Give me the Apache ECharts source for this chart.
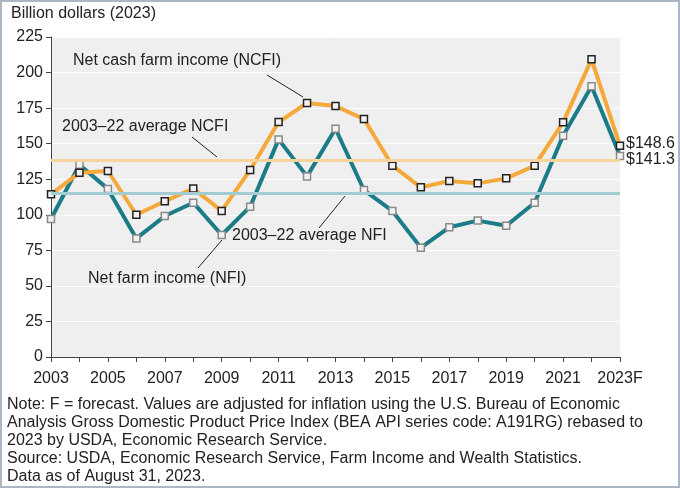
<!DOCTYPE html>
<html>
<head>
<meta charset="utf-8">
<script src="https://cdn.jsdelivr.net/npm/echarts@6/dist/echarts.min.js"></script>
<style>
  html, body { margin: 0; padding: 0; background: #fff; }
  #chart { width: 680px; height: 489px; }
</style>
</head>
<body>
<div id="chart"></div>
<script>
// 年份（横轴）
const years = ['2003', '2004', '2005', '2006', '2007', '2008', '2009', '2010', '2011', '2012',
  '2013', '2014', '2015', '2016', '2017', '2018', '2019', '2020', '2021', '2022', '2023F']
// Net cash farm income
const ncfi = [114.4, 129.6, 130.8, 100.0, 109.5, 118.4, 102.7, 131.5, 165.2, 178.6,
  176.5, 167.3, 134.5, 119.3, 123.8, 122.1, 125.6, 134.5, 165.0, 209.3, 148.6]
// Net farm income
const nfi = [97.0, 135.2, 118.2, 83.4, 99.1, 108.5, 85.8, 105.7, 153.0, 127.0,
  160.5, 117.4, 102.7, 76.9, 91.2, 95.9, 92.3, 108.5, 155.6, 190.3, 141.3]
// 2003–22 平均值
const avgNcfi = 138.3
const avgNfi = 115.1

const noteLines = [
  'Note: F = forecast. Values are adjusted for inflation using the U.S. Bureau of Economic',
  'Analysis Gross Domestic Product Price Index (BEA API series code: A191RG) rebased to',
  '2023 by USDA, Economic Research Service.',
  'Source: USDA, Economic Research Service, Farm Income and Wealth Statistics.',
  'Data as of August 31, 2023.'
]

const FONT = '"Liberation Sans", Arial, sans-serif'
const ORANGE = '#F4A93A'
const TEAL = '#1B7C88'

let chart = echarts.init(document.getElementById('chart'))

// 注释文字 + 引线
const annot = (text, x, y) => ({
  type: 'text', left: x, top: y, z: 20,
  style: { text: text, font: '16px ' + FONT, fill: '#222' }
})
const leader = (x1, y1, x2, y2) => ({
  type: 'line', z: 20,
  shape: { x1: x1, y1: y1, x2: x2, y2: y2 },
  style: { stroke: '#222', lineWidth: 1 }
})

chart.setOption({
  animation: false,
  backgroundColor: '#fff',
  textStyle: { fontFamily: FONT },
  grid: {
    left: 51, right: 60, top: 37, bottom: 132,
    show: true, backgroundColor: '#EFEFEF', borderWidth: 0
  },
  xAxis: {
    type: 'category',
    data: years,
    boundaryGap: false,
    axisLine: { lineStyle: { color: '#444', width: 1 } },
    axisTick: { show: true, interval: 0, length: 5, lineStyle: { color: '#444' } },
    axisLabel: { interval: 1, color: '#222', fontSize: 16, margin: 14, fontFamily: FONT },
    splitLine: { show: false }
  },
  yAxis: {
    type: 'value',
    min: 0, max: 225, interval: 25,
    axisLine: { show: true, lineStyle: { color: '#444', width: 1 } },
    axisTick: { show: true, length: 5, lineStyle: { color: '#444' } },
    axisLabel: { color: '#222', fontSize: 16, margin: 8, fontFamily: FONT },
    splitLine: { show: true, lineStyle: { color: '#fff', width: 1 } }
  },
  series: [
    {
      // 平均线放在下面
      type: 'line', data: [], silent: true, z: 1,
      markLine: {
        silent: true, symbol: 'none', label: { show: false },
        data: [
          { yAxis: avgNcfi, lineStyle: { color: '#F8D49C', width: 3, type: 'solid' } },
          { yAxis: avgNfi, lineStyle: { color: '#A2CBD2', width: 3, type: 'solid' } }
        ]
      }
    },
    {
      name: 'NCFI', type: 'line', data: ncfi, z: 4,
      symbol: 'rect', symbolSize: 7,
      lineStyle: { color: ORANGE, width: 4 },
      itemStyle: { color: '#F2F2F2', borderColor: '#222', borderWidth: 1.5 },
      endLabel: {
        show: true, formatter: p => '$' + p.value.toFixed(1),
        color: '#222', fontSize: 16, fontFamily: FONT, distance: 6, offset: [0, -2]
      }
    },
    {
      name: 'NFI', type: 'line', data: nfi, z: 3,
      symbol: 'rect', symbolSize: 7,
      lineStyle: { color: TEAL, width: 4 },
      itemStyle: { color: '#F2F2F2', borderColor: '#8A8A8A', borderWidth: 1.5 },
      endLabel: {
        show: true, formatter: p => '$' + p.value.toFixed(1),
        color: '#222', fontSize: 16, fontFamily: FONT, distance: 6, offset: [0, 4]
      }
    }
  ],
  graphic: [
    { type: 'rect', z: 0, shape: { x: 1, y: 1, width: 678, height: 486 },
      style: { fill: 'none', stroke: '#A9B8C4', lineWidth: 2 } },
    { type: 'text', left: 11, top: 6,
      style: { text: 'Billion dollars (2023)', font: '16px ' + FONT, fill: '#222' } },
    annot('Net cash farm income (NCFI)', 73, 53),
    leader(267, 75, 303, 97),
    annot('2003–22 average NCFI', 62, 119),
    leader(192, 137, 217, 157),
    annot('2003–22 average NFI', 232, 228),
    leader(319, 228, 345, 196),
    annot('Net farm income (NFI)', 88, 271),
    leader(198, 268, 222, 240),
    { type: 'text', left: 7, top: 396,
      style: { text: noteLines.join('\n'), font: '16px ' + FONT, lineHeight: 18, fill: '#222' } }
  ]
})
</script>
</body>
</html>
